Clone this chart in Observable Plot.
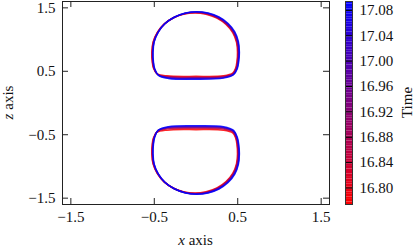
<!DOCTYPE html>
<html>
<head>
<meta charset="utf-8">
<script src="https://cdn.jsdelivr.net/npm/d3@7"></script>
<script src="https://cdn.jsdelivr.net/npm/@observablehq/plot@0.6"></script>
<style>
  html, body { margin: 0; padding: 0; background: #fff; }
  #wrap { position: relative; width: 415px; height: 247px; overflow: hidden; font-family: "Liberation Serif", "Times New Roman", serif; }
  #wrap svg { position: absolute; top: 0; }
  #wrap svg text { font-family: "Liberation Serif", "Times New Roman", serif !important; }
</style>
</head>
<body>
<div id="wrap"></div>
<script>
// ---- tick labels ----
const xTicks = [-1.5, -0.5, 0.5, 1.5];
const zTicks = [-1.5, -0.5, 0.5, 1.5];
const timeTicks = [16.80, 16.84, 16.88, 16.92, 16.96, 17.00, 17.04, 17.08];
const timeRange = [16.774, 17.094];

// ---- snapshot times ----
const times = [16.774, 16.85, 16.93, 17.01, 17.094];

// ---- upper drop outlines [x, z] per snapshot ----
const upper0 = [[-0.015,1.420],[0.12,1.400],[0.25,1.340],[0.36,1.240],[0.44,1.110],[0.485,0.960],[0.497,0.800],[0.49,0.650],[0.475,0.550],[0.44,0.470],[0.33,0.428],[0.00,0.420],[-0.35,0.428],[-0.47,0.465],[-0.51,0.550],[-0.525,0.650],[-0.53,0.800],[-0.515,0.960],[-0.465,1.110],[-0.385,1.240],[-0.275,1.340],[-0.15,1.400]];
const upper1 = [[-0.008,1.425],[0.127,1.405],[0.257,1.344],[0.366,1.243],[0.446,1.113],[0.49,0.962],[0.503,0.800],[0.496,0.650],[0.48,0.547],[0.443,0.462],[0.33,0.418],[0.00,0.405],[-0.345,0.416],[-0.465,0.457],[-0.506,0.547],[-0.521,0.650],[-0.526,0.800],[-0.511,0.962],[-0.461,1.113],[-0.381,1.245],[-0.27,1.344],[-0.143,1.405]];
const upper2 = [[0.000,1.430],[0.135,1.409],[0.264,1.348],[0.373,1.247],[0.453,1.116],[0.497,0.964],[0.51,0.800],[0.502,0.650],[0.486,0.545],[0.446,0.456],[0.33,0.408],[0.00,0.395],[-0.34,0.405],[-0.46,0.449],[-0.502,0.545],[-0.517,0.650],[-0.522,0.800],[-0.507,0.964],[-0.457,1.116],[-0.377,1.248],[-0.265,1.348],[-0.137,1.410]];
const upper3 = [[0.005,1.435],[0.14,1.414],[0.27,1.352],[0.379,1.250],[0.459,1.119],[0.503,0.966],[0.515,0.800],[0.507,0.650],[0.49,0.542],[0.448,0.450],[0.33,0.400],[0.00,0.385],[-0.335,0.396],[-0.455,0.442],[-0.498,0.542],[-0.513,0.650],[-0.518,0.800],[-0.503,0.966],[-0.453,1.119],[-0.373,1.251],[-0.26,1.352],[-0.131,1.414]];
const upper4 = [[0.010,1.440],[0.145,1.418],[0.275,1.356],[0.385,1.254],[0.465,1.122],[0.508,0.968],[0.52,0.800],[0.512,0.650],[0.495,0.540],[0.45,0.445],[0.33,0.392],[0.00,0.375],[-0.33,0.388],[-0.45,0.435],[-0.495,0.540],[-0.51,0.650],[-0.515,0.800],[-0.50,0.968],[-0.45,1.122],[-0.37,1.254],[-0.255,1.356],[-0.125,1.418]];

// ---- lower drop outlines [x, z] per snapshot ----
const lower0 = [[-0.015,-1.420],[0.12,-1.400],[0.25,-1.340],[0.36,-1.240],[0.44,-1.110],[0.485,-0.960],[0.497,-0.800],[0.49,-0.650],[0.475,-0.550],[0.44,-0.470],[0.33,-0.428],[0.00,-0.420],[-0.35,-0.428],[-0.47,-0.465],[-0.51,-0.550],[-0.525,-0.650],[-0.53,-0.800],[-0.515,-0.960],[-0.465,-1.110],[-0.385,-1.240],[-0.275,-1.340],[-0.15,-1.400]];
const lower1 = [[-0.008,-1.425],[0.127,-1.405],[0.257,-1.344],[0.366,-1.243],[0.446,-1.113],[0.49,-0.962],[0.503,-0.800],[0.496,-0.650],[0.48,-0.547],[0.443,-0.457],[0.33,-0.410],[0.00,-0.398],[-0.345,-0.408],[-0.465,-0.452],[-0.506,-0.547],[-0.521,-0.650],[-0.526,-0.800],[-0.511,-0.962],[-0.461,-1.113],[-0.381,-1.245],[-0.27,-1.344],[-0.143,-1.405]];
const lower2 = [[0.000,-1.430],[0.135,-1.409],[0.264,-1.348],[0.373,-1.247],[0.453,-1.116],[0.497,-0.964],[0.51,-0.800],[0.502,-0.650],[0.486,-0.545],[0.446,-0.447],[0.33,-0.395],[0.00,-0.383],[-0.34,-0.393],[-0.46,-0.440],[-0.502,-0.545],[-0.517,-0.650],[-0.522,-0.800],[-0.507,-0.964],[-0.457,-1.116],[-0.377,-1.248],[-0.265,-1.348],[-0.137,-1.410]];
const lower3 = [[0.005,-1.435],[0.14,-1.414],[0.27,-1.352],[0.379,-1.250],[0.459,-1.119],[0.503,-0.966],[0.515,-0.800],[0.507,-0.650],[0.49,-0.542],[0.448,-0.440],[0.33,-0.385],[0.00,-0.371],[-0.335,-0.383],[-0.455,-0.432],[-0.498,-0.542],[-0.513,-0.650],[-0.518,-0.800],[-0.503,-0.966],[-0.453,-1.119],[-0.373,-1.251],[-0.26,-1.352],[-0.131,-1.414]];
const lower4 = [[0.010,-1.440],[0.145,-1.418],[0.275,-1.356],[0.385,-1.254],[0.465,-1.122],[0.508,-0.968],[0.52,-0.800],[0.512,-0.650],[0.495,-0.540],[0.45,-0.432],[0.33,-0.375],[0.00,-0.360],[-0.33,-0.373],[-0.45,-0.425],[-0.495,-0.540],[-0.51,-0.650],[-0.515,-0.800],[-0.50,-0.968],[-0.45,-1.122],[-0.37,-1.254],[-0.255,-1.356],[-0.125,-1.418]];

const upperShapes = [upper0, upper1, upper2, upper3, upper4];
const lowerShapes = [lower0, lower1, lower2, lower3, lower4];

// build table
const rows = [];
times.forEach((t, i) => {
  upperShapes[i].forEach(([x, z]) => rows.push({key: "u" + i, t, x, z}));
  lowerShapes[i].forEach(([x, z]) => rows.push({key: "l" + i, t, x, z}));
});

const FONT = "'Liberation Serif', 'Times New Roman', serif";
const colorScale = {type: "linear", domain: timeRange, range: ["#ff0000", "#0000ff"], interpolate: "rgb"};
const fmt1 = d => (d < 0 ? "\u2212" : "") + Math.abs(d).toFixed(1);

const W = 415, H = 247, ML = 62, MR = 86, MT = 1, MB = 43;
const frameW = W - ML - MR, frameH = H - MT - MB, TL = 6;

const main = Plot.plot({
  width: W, height: H,
  marginLeft: ML, marginRight: MR, marginTop: MT, marginBottom: MB,
  style: {fontFamily: FONT, fontSize: "15px", color: "#000", background: "transparent"},
  x: {domain: [-1.6, 1.6], label: null},
  y: {domain: [-1.6, 1.6], label: null},
  color: colorScale,
  marks: [
    Plot.line(rows, {x: "x", y: "z", z: "key", stroke: "t", curve: "catmull-rom-closed", strokeWidth: 1.5, strokeOpacity: 0.85}),
    Plot.frame({stroke: "#222", strokeWidth: 1}),
    Plot.axisX({ticks: xTicks, tickFormat: fmt1, tickSize: 0, tickPadding: 7, fill: "#111"}),
    Plot.axisY({ticks: zTicks, tickFormat: fmt1, tickSize: 0, tickPadding: 7, fill: "#111"}),
    Plot.tickX(xTicks, {x: d => d, insetTop: frameH - TL, stroke: "#222"}),
    Plot.tickX(xTicks, {x: d => d, insetBottom: frameH - TL, stroke: "#222"}),
    Plot.tickY(zTicks, {y: d => d, insetRight: frameW - TL, stroke: "#222"}),
    Plot.tickY(zTicks, {y: d => d, insetLeft: frameW - TL, stroke: "#222"})
  ]
});
main.style.left = "0px";
document.getElementById("wrap").appendChild(main);

// axis titles
const ms = d3.select(main);
const xl = ms.append("text").attr("x", ML + frameW / 2).attr("y", 245)
  .attr("text-anchor", "middle").attr("font-size", 15).attr("fill", "#111");
xl.append("tspan").attr("font-style", "italic").text("x");
xl.append("tspan").text(" axis");
const zl = ms.append("text").attr("transform", `translate(13,${MT + frameH / 2}) rotate(-90)`)
  .attr("text-anchor", "middle").attr("font-size", 15).attr("fill", "#111");
zl.append("tspan").attr("font-style", "italic").text("z");
zl.append("tspan").text(" axis");

// ---- colorbar ----
const CBL = 330, CBW = 85;
const step = 0.004;
const bands = d3.range(timeRange[0], timeRange[1], step);
const cb = Plot.plot({
  width: CBW, height: H,
  marginLeft: 15, marginRight: CBW - 22, marginTop: MT, marginBottom: MB,
  style: {fontFamily: FONT, fontSize: "15px", color: "#000", background: "transparent"},
  x: {domain: [0, 1], axis: null},
  y: {domain: timeRange, label: null},
  color: colorScale,
  marks: [
    Plot.rect(bands, {x1: 0, x2: 1, y1: d => d, y2: d => Math.min(d + step, timeRange[1]), fill: d => d + step / 2}),
    Plot.ruleY(timeTicks, {y: d => d, stroke: "#000", strokeWidth: 1}),
    Plot.frame({stroke: "#333", strokeWidth: 1}),
    Plot.axisY({anchor: "right", ticks: timeTicks, tickFormat: d => d.toFixed(2), tickSize: 0, tickPadding: 7, fill: "#111", label: null})
  ]
});
cb.style.left = CBL + "px";
document.getElementById("wrap").appendChild(cb);
d3.select(cb).append("text")
  .attr("transform", `translate(${CBW - 3},${MT + frameH / 2}) rotate(-90)`)
  .attr("text-anchor", "middle").attr("font-size", 15).attr("fill", "#111")
  .text("Time");
</script>
</body>
</html>
